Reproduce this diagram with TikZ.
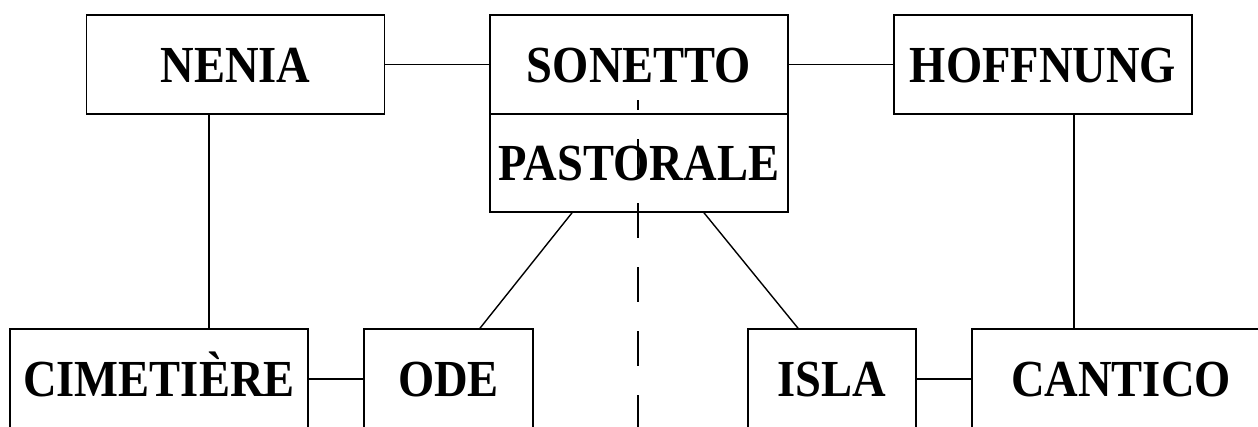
\documentclass[tikz,border=0pt]{standalone}
\usepackage{fontspec}
\usepackage{graphicx}
\setmainfont{Liberation Serif}
\newcommand{\boxlabel}[1]{\scalebox{0.895}[1]{#1}}
\begin{document}
\begin{tikzpicture}[x=1pt,y=-1pt,
  word/.style={draw, line width=1.6pt, rectangle, inner sep=0pt,
    minimum width=298pt, text height=35pt, text depth=0pt,
    font=\fontsize{52}{60}\selectfont\bfseries},
  upper/.style={word, minimum height=99pt},
  lower/.style={word, minimum height=100pt},
  link/.style={line width=1.4pt},
  axis/.style={line width=1.6pt, dash pattern=on 35pt off 29pt, dash phase=25pt}]
\useasboundingbox (0,0) rectangle (1258,426);
\clip (0,0) rectangle (1258,426);

% top row
\node[upper] (nenia)    at (235.5,64.5) {\boxlabel{NENIA}};
\node[upper] (sonetto)  at (639,64.5)   {\boxlabel{SONETTO}};
\node[upper, minimum height=98pt] (pastorale) at (639,163) {\boxlabel{PASTORALE}};
\node[upper] (hoffnung) at (1043,64.5)  {\boxlabel{HOFFNUNG}};

% bottom row
\node[lower] (cimetiere) at (159,379)  {\boxlabel{CIMETIÈRE}};
\node[lower, minimum width=169pt] (ode)  at (448.5,379) {\boxlabel{ODE}};
\node[lower, minimum width=168pt] (isla) at (832,379)   {\boxlabel{ISLA}};
\node[lower] (cantico)   at (1121,379) {\boxlabel{CANTICO}};

% connectors
\draw[link] (nenia) -- (sonetto);
\draw[link] (sonetto) -- (hoffnung);
\draw[link] (cimetiere) -- (ode);
\draw[link] (isla) -- (cantico);
\draw[link] (nenia.south -| 209,0) -- (cimetiere.north -| 209,0);
\draw[link] (hoffnung.south -| 1074,0) -- (cantico.north -| 1074,0);
\draw[link] (pastorale.south -| 572,0) -- (ode.north -| 480,0);
\draw[link] (pastorale.south -| 704,0) -- (isla.north -| 798,0);

% vertical axis
\coordinate (axistop) at (638,100);
\coordinate (axisbot) at (638,440);
\draw[axis] (axistop) -- (axisbot);
\end{tikzpicture}
\end{document}
